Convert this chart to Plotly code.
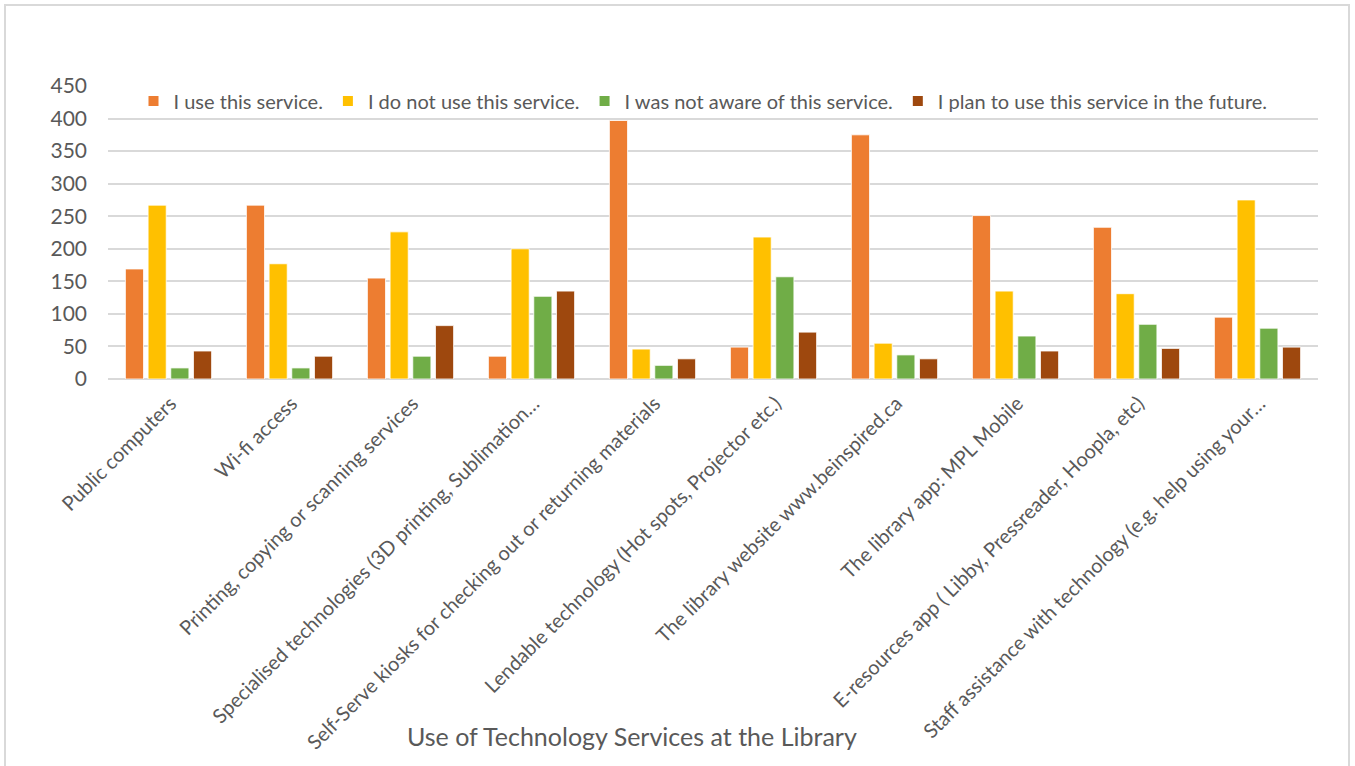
import plotly.graph_objects as go

categories = [
    "Public computers",
    "Wi-fi access",
    "Printing, copying or scanning services",
    "Specialised technologies (3D printing, Sublimation…",
    "Self-Serve kiosks for checking out or returning materials",
    "Lendable technology (Hot spots, Projector etc.)",
    "The library website www.beinspired.ca",
    "The library app: MPL Mobile",
    "E-resources app ( Libby, Pressreader, Hoopla, etc)",
    "Staff assistance with technology (e.g. help using your…",
]

use_service = [169, 267, 155, 35, 397, 49, 375, 251, 233, 95]
not_use_service = [267, 177, 226, 200, 46, 218, 55, 135, 131, 275]
not_aware = [17, 17, 35, 127, 21, 157, 37, 66, 84, 78]
plan_future = [43, 35, 82, 135, 31, 72, 31, 43, 47, 49]

series_names = [
    "I use this service.",
    "I do not use this service.",
    "I was not aware of this service.",
    "I plan to use this service in the future.",
]
series_values = [use_service, not_use_service, not_aware, plan_future]
series_colors = ["#ED7D31", "#FFC000", "#70AD47", "#9E480E"]

y_ticks = [0, 50, 100, 150, 200, 250, 300, 350, 400, 450]

FONT = "Lato, 'Open Sans', sans-serif"
TEXT_GREY = "#595959"

fig = go.Figure()
for name, vals, color in zip(series_names, series_values, series_colors):
    fig.add_trace(go.Bar(
        name=name,
        x=categories,
        y=vals,
        marker=dict(color=color, line=dict(color="#FFFFFF", width=0.8)),
    ))

# plot-area geometry in pixels, used to place the outer chart border
W, H = 1355, 766
L, R, T, B = 108, 37, 86, 387
pw, ph = W - L - R, H - T - B


def px_x(x):
    return (x - L) / pw


def px_y(y):
    return (H - B - y) / ph


fig.update_layout(
    width=W,
    height=H,
    margin=dict(l=L, r=R, t=T, b=B, autoexpand=False),
    paper_bgcolor="white",
    plot_bgcolor="white",
    barmode="group",
    bargap=0.25,
    bargroupgap=0.2,
    font=dict(family=FONT, color=TEXT_GREY),
    legend=dict(
        orientation="h",
        x=px_x(703),
        xanchor="center",
        y=px_y(101),
        yanchor="middle",
        font=dict(size=20, color=TEXT_GREY, family=FONT),
        bgcolor="rgba(255,255,255,0)",
        itemsizing="constant",
        itemwidth=30,
        traceorder="normal",
    ),
    xaxis=dict(
        tickangle=-45,
        tickfont=dict(size=20, color=TEXT_GREY, family=FONT),
        showgrid=False,
        showline=False,
        ticks="",
        ticklabelstandoff=8,
        ticklabelshift=2,
        automargin=False,
    ),
    yaxis=dict(
        range=[0, 450],
        tickvals=y_ticks,
        tickfont=dict(size=21, color=TEXT_GREY, family=FONT),
        gridcolor="#D9D9D9",
        gridwidth=1.5,
        zeroline=True,
        zerolinecolor="#D9D9D9",
        zerolinewidth=1.5,
        showline=False,
        ticks="",
        ticklabelstandoff=20,
        automargin=False,
    ),
    annotations=[
        dict(
            text="Use of Technology Services at the Library",
            xref="paper", yref="paper",
            x=px_x(632), y=px_y(736),
            xanchor="center", yanchor="middle",
            showarrow=False,
            font=dict(size=25, color=TEXT_GREY, family=FONT),
        )
    ],
    shapes=[
        dict(
            type="rect",
            xref="paper", yref="paper",
            x0=px_x(5), x1=px_x(1349),
            y0=px_y(775), y1=px_y(5),
            line=dict(color="#D9D9D9", width=2),
            fillcolor="rgba(0,0,0,0)",
            layer="below",
        )
    ],
)

fig.write_html("out.html")
